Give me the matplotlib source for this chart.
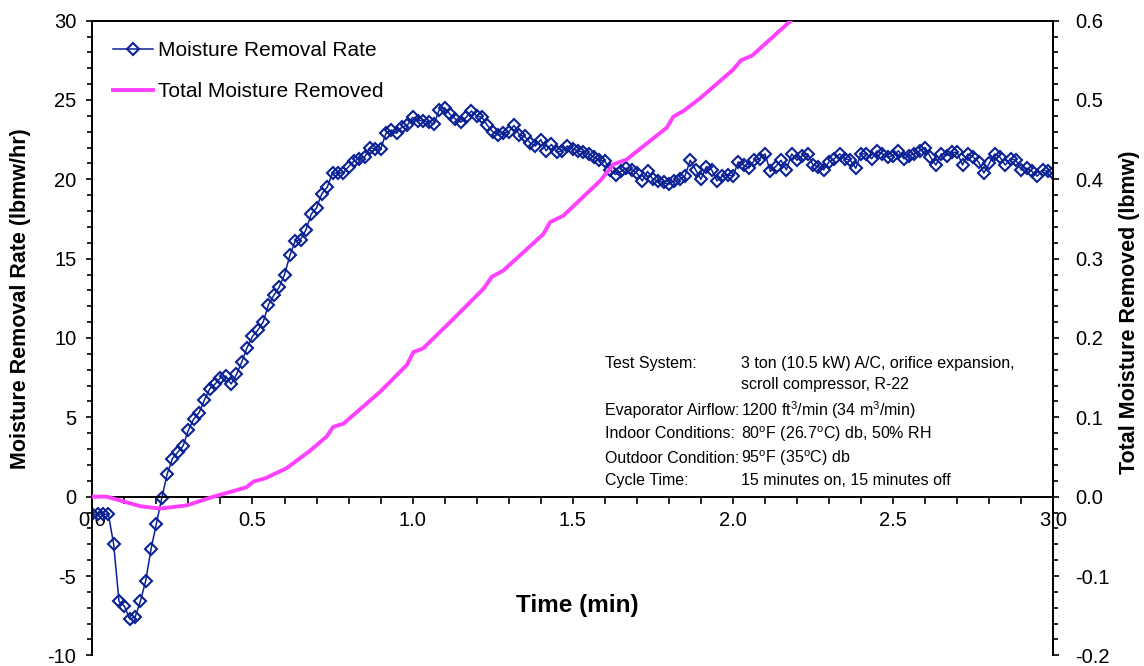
import numpy as np
import matplotlib.pyplot as plt
from matplotlib.ticker import MultipleLocator, FormatStrFormatter

plt.rcParams['font.family'] = ['Liberation Sans', 'DejaVu Sans']
plt.rcParams['mathtext.fontset'] = 'custom'
plt.rcParams['mathtext.rm'] = 'Liberation Sans'
plt.rcParams['mathtext.it'] = 'Liberation Sans:italic'
plt.rcParams['mathtext.bf'] = 'Liberation Sans:bold'
plt.rcParams['axes.unicode_minus'] = False

# moisture removal rate (lbmw/hr), one reading per second over 3 minutes
rate = [
    -1.1, -1.1, -1.1, -1.1, -3.0, -6.6, -6.9, -7.7, -7.6, -6.6,
    -5.3, -3.3, -1.7, -0.1, 1.4, 2.4, 2.8, 3.2, 4.2, 4.9,
    5.3, 6.1, 6.8, 7.1, 7.5, 7.6, 7.1, 7.7, 8.5, 9.4,
    10.1, 10.5, 11.0, 12.1, 12.7, 13.2, 14.0, 15.2, 16.1, 16.2,
    16.8, 17.8, 18.2, 19.1, 19.5, 20.4, 20.4, 20.4, 20.8, 21.15,
    21.3, 21.4, 22.0, 21.9, 21.9, 22.9, 23.1, 22.9, 23.3, 23.4,
    23.9, 23.7, 23.7, 23.6, 23.5, 24.4, 24.5, 24.1, 23.8, 23.6,
    23.9, 24.3, 24.0, 23.9, 23.4, 23.0, 22.8, 22.9, 23.0, 23.4,
    22.8, 22.7, 22.3, 22.1, 22.5, 21.8, 22.2, 21.7, 21.8, 22.1,
    21.9, 21.8, 21.7, 21.6, 21.4, 21.2, 21.15, 20.6, 20.3, 20.5,
    20.7, 20.6, 20.4, 19.9, 20.5, 20.0, 19.9, 19.8, 19.7, 19.9,
    20.0, 20.2, 21.2, 20.6, 20.0, 20.8, 20.6, 19.9, 20.2, 20.3,
    20.2, 21.1, 20.9, 20.7, 21.2, 21.3, 21.6, 20.5, 20.8, 21.2,
    20.6, 21.6, 21.2, 21.5, 21.6, 20.9, 20.8, 20.6, 21.1, 21.3,
    21.6, 21.3, 21.2, 20.7, 21.6, 21.6, 21.3, 21.8, 21.6, 21.4,
    21.5, 21.8, 21.3, 21.5, 21.6, 21.8, 22.0, 21.4, 20.9, 21.6,
    21.5, 21.7, 21.7, 20.9, 21.6, 21.4, 21.1, 20.4, 21.0, 21.6,
    21.4, 20.9, 21.3, 21.2, 20.6, 20.7, 20.5, 20.2, 20.6, 20.5,
    20.4,
]
rate_time = np.arange(len(rate)) / 60.0  # minutes

# total moisture removed (lbmw)
total_time = [0.0, 0.045, 0.097, 0.149, 0.211, 0.295, 0.378, 0.44, 0.482, 0.503,
              0.539, 0.607, 0.68, 0.732, 0.752, 0.784, 0.898, 0.982, 1.002, 1.033,
              1.127, 1.221, 1.247, 1.283, 1.408, 1.429, 1.47, 1.585, 1.627, 1.668,
              1.793, 1.814, 1.845, 1.897, 2.0, 2.025, 2.06, 2.2]
total = [0.0, 0.0, -0.006, -0.012, -0.015, -0.011, 0.0, 0.007, 0.012, 0.019,
         0.023, 0.036, 0.058, 0.076, 0.088, 0.092, 0.132, 0.166, 0.182, 0.187,
         0.224, 0.262, 0.277, 0.285, 0.331, 0.346, 0.354, 0.398, 0.419, 0.425,
         0.465, 0.479, 0.486, 0.502, 0.538, 0.55, 0.556, 0.607]

info_keys = ["Test System:", "", "Evaporator Airflow:", "Indoor Conditions:",
             "Outdoor Condition:", "Cycle Time:"]
info_vals = ["3 ton (10.5 kW) A/C, orifice expansion,",
             "scroll compressor, R-22",
             r"1200 ft$^3$/min (34 m$^3$/min)",
             r"80$^\mathrm{o}$F (26.7$^\mathrm{o}$C) db, 50% RH",
             r"95$^\mathrm{o}$F (35$^\mathrm{o}$C) db",
             "15 minutes on, 15 minutes off"]
info_y = [8.4, 7.05, 5.45, 3.95, 2.4, 1.0]

blue = '#0a2196'
pink = '#ff40ff'

fig = plt.figure(figsize=(11.44, 6.66), dpi=100)
ax = fig.add_axes([0.0807, 0.016, 0.840, 0.953])
ax2 = ax.twinx()

ax.plot(rate_time, rate, color=blue, lw=1.1, marker='D', ms=6.5, mew=1.5,
        mfc='none', mec=blue, label='Moisture Removal Rate')
ax2.plot(total_time, total, color=pink, lw=2.8, label='Total Moisture Removed')

ax.set_xlim(0, 3.0)
ax.set_ylim(-10, 30)
ax2.set_ylim(-0.2, 0.6)

for a in (ax, ax2):
    a.spines['bottom'].set_position(('data', 0))
    for s in a.spines.values():
        s.set_linewidth(1.4)
ax2.spines['bottom'].set_visible(False)
ax2.spines['top'].set_visible(False)
ax2.spines['left'].set_visible(False)

ax.xaxis.set_major_locator(MultipleLocator(0.5))
ax.xaxis.set_minor_locator(MultipleLocator(0.1))
ax.xaxis.set_major_formatter(FormatStrFormatter('%.1f'))
ax.yaxis.set_major_locator(MultipleLocator(5))
ax.yaxis.set_minor_locator(MultipleLocator(1))
ax2.yaxis.set_major_locator(MultipleLocator(0.1))
ax2.yaxis.set_minor_locator(MultipleLocator(0.02))
ax2.yaxis.set_major_formatter(FormatStrFormatter('%.1f'))

ax.tick_params(axis='x', which='both', direction='out', length=5, width=1.2,
               labelsize=14.5, pad=5)
ax.tick_params(axis='y', which='major', direction='out', length=4.5, width=1.2,
               labelsize=14.5, pad=7)
ax.tick_params(axis='y', which='minor', direction='out', length=3.5, width=1.2)
ax2.tick_params(axis='y', which='major', direction='out', length=4.5, width=1.2,
                labelsize=14.5, pad=11)
ax2.tick_params(axis='y', which='minor', direction='out', length=3.5, width=1.2)

ax.set_xlabel('Time (min)', fontsize=17.5, fontweight='bold')
ax.xaxis.set_label_coords(0.505, 0.079)
ax.xaxis.label.set_va('center')
ax.set_ylabel('Moisture Removal Rate (lbmw/hr)', fontsize=15.5, fontweight='bold')
ax.yaxis.set_label_coords(-0.075, 0.562)
ax.yaxis.label.set_va('center')
ax2.set_ylabel('Total Moisture Removed (lbmw)', fontsize=15.5, fontweight='bold')
ax2.yaxis.set_label_coords(1.079, 0.54)
ax2.yaxis.label.set_va('center')

for k, v, y in zip(info_keys, info_vals, info_y):
    ax.text(0.5335, y, k, transform=ax.get_yaxis_transform(), fontsize=11.5,
            va='center', ha='left')
    ax.text(0.675, y, v, transform=ax.get_yaxis_transform(), fontsize=11.5,
            va='center', ha='left')

h1, l1 = ax.get_legend_handles_labels()
h2, l2 = ax2.get_legend_handles_labels()
ax2.legend(h1 + h2, l1 + l2, loc='upper left', bbox_to_anchor=(0.0215, 0.968),
           frameon=False, fontsize=15, handlelength=1.9, handletextpad=0.25,
           labelspacing=1.05, borderpad=0, borderaxespad=0)

fig.savefig('out.png', dpi=100)
